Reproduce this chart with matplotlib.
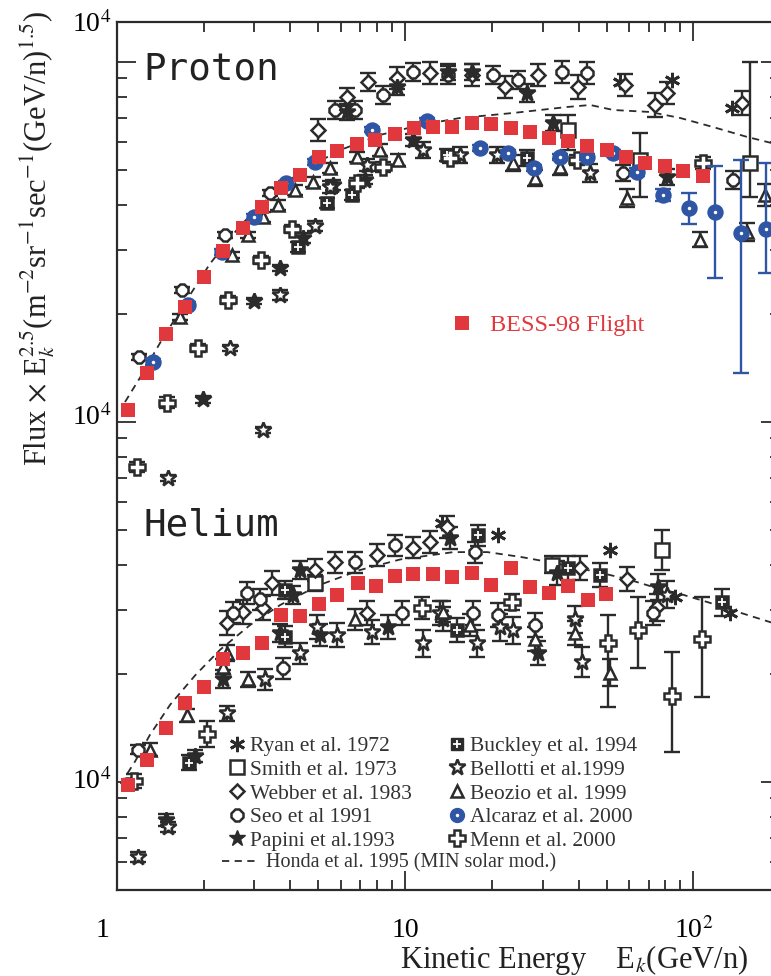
import matplotlib
matplotlib.use("Agg")
import matplotlib.pyplot as plt
import matplotlib.transforms as mtransforms
from matplotlib.lines import Line2D
from matplotlib.ticker import LogLocator, NullFormatter
import numpy as np

plt.rcParams['font.family'] = ['Liberation Serif', 'DejaVu Serif']
plt.rcParams['mathtext.fontset'] = 'stix'

INK = '#2b2b2b'
RED = '#e0383d'
BLUE = '#2f55a5'

# BESS-98 flight, proton and helium (flux x Ek^2.5)
bess_p_e = [1.09, 1.27, 1.48, 1.72, 2.01, 2.33, 2.74, 3.19, 3.71, 4.32, 5.03, 5.81,
            6.81, 7.87, 9.23, 10.75, 12.5, 14.6, 17.1, 19.9, 23.3, 27.2, 31.6, 36.8,
            42.9, 50.3, 58.5, 68.1, 80.0, 92.3, 108.3]
bess_p_f = [1080, 1368, 1756, 2086, 2528, 2985, 3459, 3956, 4467, 4855, 5447, 5659,
            5918, 6072, 6310, 6556, 6598, 6598, 6769, 6725, 6556, 6390, 6150, 6034,
            5843, 5694, 5447, 5242, 5143, 4981, 4825]
bess_he_e = [1.09, 1.27, 1.48, 1.72, 2.01, 2.33, 2.74, 3.19, 3.71, 4.32, 5.03, 5.81,
             6.87, 7.94, 9.23, 10.66, 12.5, 14.6, 17.1, 19.9, 23.3, 27.2, 31.6, 36.8,
             43.2, 49.9]
bess_he_f = [98, 115, 141, 166, 184, 220, 228, 243, 291, 289, 312, 331,
             357, 350, 373, 378, 378, 371, 381, 353, 393, 348, 335, 350,
             320, 333]

# Honda et al. 1995 calculation (MIN solar modulation)
honda_p_e = [1.066, 1.20, 1.41, 1.72, 2.10, 2.67, 3.40, 4.32, 5.95, 8.19, 11.3, 15.5,
             23.7, 36.5, 43.9, 52.8, 70.9, 90.1, 117, 154, 193]
honda_p_f = [1136, 1325, 1657, 2141, 2748, 3503, 4245, 4949, 5694, 6272, 6683, 6989,
             7217, 7499, 7595, 7356, 7263, 6989, 6598, 6190, 5918]
honda_he_e = [1.03, 1.155, 1.30, 1.53, 1.87, 2.28, 2.90, 3.68, 5.07, 6.98, 9.61, 14.7,
              19.3, 25.1, 32.7, 46.4, 59.0, 72.6, 92.3, 112, 146, 193]
honda_he_f = [98.7, 114, 135, 164, 198, 233, 273, 310, 353, 388, 415, 435,
              435, 422, 406, 383, 366, 348, 331, 316, 295, 275]

# Ryan et al. 1972
ryan_e = [55.8, 84.5, 136.6, 13.4, 21.0, 51.5, 86.6, 134.5]
ryan_f = [8800, 8910, 7450, 524, 485, 441, 327, 295]

# Smith et al. 1973
smith_e = [36.8, 65.5, 157.8, 4.87, 32.4, 78.0]
smith_f = [6470, 5350, 5240, 357, 401, 441]
smith_lo = [5690, 4220, 4220, 340, 380, 388]
smith_hi = [7130, 6350, 10000, 375, 425, 501]

# Webber et al. 1983
webber_e = [4.99, 6.29, 7.44, 9.38, 12.2, 17.1, 22.3, 29.0, 39.9, 58.1, 73.8, 81.2,
            148, 2.41, 2.74, 3.45, 4.87, 5.71, 7.99, 10.66, 12.2, 40.5, 59.0, 75.0,
            3.21, 13.99, 7.38]
webber_f = [6470, 8000, 8800, 9030, 9320, 9200, 8520, 9200, 8520, 8630, 7600, 8200,
            7690, 277, 297, 357, 388, 408, 427, 447, 464, 393, 366, 306,
            304, 511, 295]
webber_err = [0.07, 0.06, 0.06, 0.07, 0.07, 0.07, 0.07, 0.07, 0.08, 0.07, 0.08, 0.07,
              0.08, 0.08, 0.08, 0.08, 0.07, 0.07, 0.07, 0.07, 0.07, 0.08, 0.08, 0.09,
              0.08, 0.07, 0.08]

# Seo et al. 1991
seo_e = [1.19, 1.68, 2.37, 3.40, 5.71, 6.71, 8.39, 10.66, 14.1, 20.2, 24.7, 35.1,
         42.9, 57.2, 137.7, 1.18, 2.53, 3.14, 3.77, 17.2, 28.3, 72.6, 6.71,
         9.23, 17.5, 9.76, 21.0, 2.83]
seo_f = [1516, 2326, 3307, 4326, 7356, 7356, 8099, 9380, 9203, 9203, 8913, 9380,
         9320, 4918, 4706, 123, 295, 322, 207, 295, 273, 295, 408,
         455, 435, 295, 291, 335]
seo_err = [0.02, 0.02, 0.02, 0.02, 0.06, 0.06, 0.06, 0.06, 0.06, 0.06, 0.06, 0.07,
           0.07, 0.05, 0.06, 0.03, 0.07, 0.07, 0.07, 0.08, 0.08, 0.08, 0.07,
           0.07, 0.07, 0.08, 0.08, 0.07]

# Papini et al. 1993
papini_e = [1.99, 2.99, 3.68, 4.42, 5.62, 7.26, 10.66, 32.65, 81.2, 9.38, 14.1, 17.1,
            26.5, 1.87, 1.48, 3.68, 4.08, 4.32, 14.3, 33.7, 28.96, 75.6,
            2.33, 5.07, 8.73, 13.55, 6.29]
papini_f = [1155, 2169, 2678, 3245, 4554, 4706, 6076, 6769, 4793, 8521, 9380, 9380,
            8203, 118, 78.4, 259, 331, 388, 476, 381, 228, 348,
            193, 256, 269, 283, 7263]
papini_err = [0.02, 0.02, 0.02, 0.03, 0.03, 0.03, 0.04, 0.05, 0.05, 0.05, 0.05, 0.05,
              0.06, 0.04, 0.04, 0.06, 0.06, 0.06, 0.07, 0.08, 0.08, 0.09,
              0.06, 0.07, 0.08, 0.08, 0.05]

# Buckley et al. 1994
buckley_e = [4.25, 5.36, 6.55, 14.0, 26.5, 1.78, 3.83, 17.9, 47.5, 126, 36.8,
             3.83, 15.16]
buckley_f = [3062, 4058, 4272, 5516, 5412, 113, 341, 485, 376, 316, 393,
             253, 264]
buckley_err = [0.03, 0.03, 0.03, 0.04, 0.05, 0.05, 0.06, 0.07, 0.08, 0.09, 0.08,
               0.07, 0.08]

# Bellotti et al. 1999
bellotti_e = [1.50, 3.21, 2.47, 3.68, 4.87, 5.49, 7.38, 11.5, 15.5, 20.9, 43.9,
              1.18, 1.50, 2.41, 4.32, 4.95, 5.81, 7.68, 11.55, 17.8, 23.7, 41.2, 21.4,
              3.27, 13.23, 38.9, 81.2]
bellotti_f = [699, 950, 1606, 2253, 3503, 4496, 5176, 5694, 5516, 5516, 4918,
              61.9, 75.0, 155, 228, 269, 256, 261, 243, 243, 264, 215, 269,
              193, 295, 283, 331]
bellotti_err = [0.02, 0.02, 0.02, 0.03, 0.03, 0.04, 0.04, 0.05, 0.05, 0.05, 0.06,
                0.03, 0.03, 0.05, 0.07, 0.08, 0.08, 0.08, 0.09, 0.09, 0.09, 0.10, 0.09,
                0.07, 0.08, 0.09, 0.09]

# Beozio et al. 1999
beozio_e = [1.65, 2.51, 2.85, 3.21, 3.62, 4.15, 4.79, 5.49, 6.81, 8.19, 9.46, 23.7,
            28.3, 34.5, 59.0, 105.8, 154, 177.8, 1.30, 1.75, 2.33, 2.41, 2.85, 16.8,
            51.5, 38.9, 28.3, 13.55, 6.71]
beozio_f = [1957, 2910, 3307, 3711, 4006, 4410, 4642, 5077, 5447, 5694, 5347, 5242,
            4762, 5110, 4190, 3208, 3370, 4272, 123, 153, 209, 228, 193, 273,
            201, 259, 249, 297, 283]
beozio_err = [0.02, 0.02, 0.02, 0.03, 0.03, 0.03, 0.03, 0.03, 0.03, 0.04, 0.04, 0.05,
              0.05, 0.05, 0.06, 0.05, 0.06, 0.07, 0.04, 0.04, 0.05, 0.05, 0.05, 0.07,
              0.09, 0.08, 0.08, 0.07, 0.07]

# Alcaraz et al. 2000 (AMS)
alcaraz_e = [1.334, 1.764, 2.315, 2.991, 3.863, 4.870, 7.68, 11.93, 18.21, 22.79,
             28.05, 34.53, 42.85, 52.75, 63.9, 78.7, 96.8, 119.2, 146.8, 179.3]
alcaraz_f = [1468, 2113, 2967, 3711, 4612, 5275, 6474, 6858, 5768, 5587,
             5077, 5447, 5447, 5587, 4949, 4272, 3931, 3831, 3350, 3436]
alcaraz_lo = [1440, 2075, 2915, 3650, 4540, 5190, 6370, 6745, 5670, 5490,
              4985, 5350, 5340, 5470, 4820, 4100, 3548, 2512, 1368, 2594]
alcaraz_hi = [1497, 2150, 3020, 3775, 4685, 5360, 6580, 6970, 5865, 5685,
              5170, 5545, 5555, 5705, 5080, 4450, 4326, 5143, 5344, 5242]

# Menn et al. 2000
menn_e = [1.17, 1.49, 1.91, 2.43, 3.16, 4.05, 6.81, 8.39, 14.3, 39.6, 108.3,
          1.15, 2.05, 23.5, 50.7, 64.4, 84.5, 107.5, 11.46]
menn_f = [750, 1129, 1606, 2187, 2823, 3436, 4612, 5110, 5412, 5347, 5242,
          100.6, 136, 316, 243, 264, 173, 249, 304]
menn_lo = [725, 1090, 1560, 2130, 2750, 3350, 4480, 4960, 5250, 5190, 5050,
           96, 125, 300, 162, 207, 121, 172, 284]
menn_hi = [775, 1170, 1650, 2245, 2900, 3520, 4750, 5260, 5580, 5510, 5440,
           105, 148, 333, 291, 327, 230, 327, 326]

W, H = 771, 976
fig = plt.figure(figsize=(W / 100, H / 100), dpi=100)
ax = fig.add_axes([117 / W, 1 - 890 / H, 663 / W, 868 / H])
ax.set_xscale('log')
ax.set_yscale('log')
ax.set_xlim(1, 200)
ax.set_ylim(50.1, 12915)


def bars(e, f, lo, hi, z, color=INK):
    f = np.asarray(f)
    yerr = [f - np.asarray(lo), np.asarray(hi) - f]
    ax.errorbar(e, f, yerr=yerr, fmt='none', ecolor=color, elinewidth=1.7,
                capsize=5.5, capthick=1.7, zorder=z)


def rel_bars(e, f, err, z):
    f = np.asarray(f)
    err = np.asarray(err)
    bars(e, f, f / (1 + err), f * (1 + err), z)


def points(e, f, z, **style):
    base = dict(ls='none', mec=INK, mew=1.8, zorder=z)
    base.update(style)
    ax.plot(e, f, **base)


# theory curves
ax.plot(honda_p_e, honda_p_f, ls=(0, (4, 3)), color=INK, lw=1.3, zorder=2)
ax.plot(honda_he_e, honda_he_f, ls=(0, (4, 3)), color=INK, lw=1.3, zorder=2)

# earlier measurements
points(ryan_e, ryan_f, 3, marker=(6, 2, 0), ms=11, mew=2.0)
bars(smith_e, smith_f, smith_lo, smith_hi, 3)
points(smith_e, smith_f, 3.1, marker='s', ms=10, mfc='white')
rel_bars(webber_e, webber_f, webber_err, 3)
points(webber_e, webber_f, 3.1, marker='D', ms=7, mfc='white')
rel_bars(seo_e, seo_f, seo_err, 3)
points(seo_e, seo_f, 3.1, marker='8', ms=9, mfc='white')
rel_bars(papini_e, papini_f, papini_err, 3)
points(papini_e, papini_f, 3.1, marker='*', ms=12, mfc=INK)
rel_bars(buckley_e, buckley_f, buckley_err, 3)
points(buckley_e, buckley_f, 3.1, marker='s', ms=9, mfc=INK)
points(buckley_e, buckley_f, 3.2, marker='+', ms=6, mec='white', mew=1.3)
rel_bars(bellotti_e, bellotti_f, bellotti_err, 3)
points(bellotti_e, bellotti_f, 3.1, marker='*', ms=12, mfc='white')
rel_bars(beozio_e, beozio_f, beozio_err, 3)
points(beozio_e, beozio_f, 3.1, marker='^', ms=9, mfc='white')
bars(menn_e, menn_f, menn_lo, menn_hi, 3)
points(menn_e, menn_f, 3.1, marker='P', ms=11, mfc='white')

# AMS
bars(alcaraz_e, alcaraz_f, alcaraz_lo, alcaraz_hi, 4, color=BLUE)
points(alcaraz_e, alcaraz_f, 4.1, marker='o', ms=10, mfc=BLUE, mec=BLUE)
points(alcaraz_e, alcaraz_f, 4.2, marker='o', ms=2.5, mfc='white', mec='white', mew=0)

# BESS-98
points(bess_p_e, bess_p_f, 5, marker='s', ms=10, mfc=RED, mec=RED, mew=0)
points(bess_he_e, bess_he_f, 5, marker='s', ms=10, mfc=RED, mec=RED, mew=0)

# axes frame and ticks
for sp in ax.spines.values():
    sp.set_linewidth(1.6)
    sp.set_color(INK)
for axis in (ax.xaxis, ax.yaxis):
    axis.set_major_locator(LogLocator(base=10, numticks=12))
    axis.set_minor_locator(LogLocator(base=10, subs=np.arange(2, 10), numticks=12))
    axis.set_minor_formatter(NullFormatter())
ax.tick_params(which='both', direction='in', top=True, right=True, color=INK,
               width=1.3, labelleft=False, labelbottom=False)
ax.tick_params(which='major', length=14)
ax.tick_params(which='minor', length=7)

xt = ax.get_xaxis_transform()
shift = mtransforms.ScaledTranslation(-14 / 100, 0, fig.dpi_scale_trans)
ax.text(1, -0.047, '1', transform=xt + shift, ha='center', va='center', fontsize=20)
ax.text(10, -0.047, '10', transform=xt, ha='center', va='center', fontsize=20)
ax.text(100, -0.047, r'10$^2$', transform=xt, ha='center', va='center', fontsize=20)

yt = ax.get_yaxis_transform()
for yv, dy in ((12915, -3), (1000, 4), (100, 0)):
    off = mtransforms.ScaledTranslation(0, dy / 100, fig.dpi_scale_trans)
    ax.text(-0.008, yv, r'10$^4$', transform=yt + off, ha='right', va='center',
            fontsize=20)

fig.text(38 / W, 1 - 238 / H,
         r'Flux $\times$ E$_k^{2.5}$(m$^{-2}$sr$^{-1}$sec$^{-1}$(GeV/n)$^{1.5}$)',
         rotation=90, ha='center', va='center', fontsize=22, color='#222222')
fig.text(400 / W, 1 - 960 / H, r'Kinetic Energy    E$_k$(GeV/n)',
         ha='left', va='center', fontsize=22, color='#222222')

fig.text(143 / W, 1 - 70 / H, 'Proton', family='DejaVu Sans Mono', fontsize=27,
         ha='left', va='center', color='#222222')
fig.text(143 / W, 1 - 525 / H, 'Helium', family='DejaVu Sans Mono', fontsize=27,
         ha='left', va='center', color='#222222')

# BESS key
bess_key = Line2D([], [], ls='none', marker='s', ms=10, mfc=RED, mec=RED, mew=0)
leg_b = ax.legend([bess_key], ['BESS-98 Flight'], loc='center left',
                  bbox_to_anchor=(450 / W, 1 - 325 / H), bbox_transform=fig.transFigure,
                  frameon=False, fontsize=17.5, labelcolor=RED, handlelength=1.0,
                  handletextpad=0.65, borderpad=0, borderaxespad=0)
ax.add_artist(leg_b)

# dataset keys
k_ryan = Line2D([], [], ls='none', marker=(6, 2, 0), ms=11, mec=INK, mew=2.0)
k_smith = Line2D([], [], ls='none', marker='s', ms=10, mfc='white', mec=INK, mew=1.8)
k_webber = Line2D([], [], ls='none', marker='D', ms=7, mfc='white', mec=INK, mew=1.8)
k_seo = Line2D([], [], ls='none', marker='8', ms=9, mfc='white', mec=INK, mew=1.8)
k_papini = Line2D([], [], ls='none', marker='*', ms=12, mfc=INK, mec=INK)
k_buck_a = Line2D([], [], ls='none', marker='s', ms=9, mfc=INK, mec=INK)
k_buck_b = Line2D([], [], ls='none', marker='+', ms=6, mec='white', mew=1.3)
k_bell = Line2D([], [], ls='none', marker='*', ms=12, mfc='white', mec=INK, mew=1.8)
k_beoz = Line2D([], [], ls='none', marker='^', ms=9, mfc='white', mec=INK, mew=1.8)
k_alc_a = Line2D([], [], ls='none', marker='o', ms=10, mfc=BLUE, mec=BLUE)
k_alc_b = Line2D([], [], ls='none', marker='o', ms=2.5, mfc='white', mec='white', mew=0)
k_menn = Line2D([], [], ls='none', marker='P', ms=11, mfc='white', mec=INK, mew=1.8)

keys = [k_ryan, k_smith, k_webber, k_seo, k_papini,
        (k_buck_a, k_buck_b), k_bell, k_beoz, (k_alc_a, k_alc_b), k_menn]
names = ['Ryan et al. 1972', 'Smith et al. 1973', 'Webber et al. 1983',
         'Seo et al 1991', 'Papini et al.1993', 'Buckley et al. 1994',
         'Bellotti et al.1999', 'Beozio et al. 1999', 'Alcaraz et al. 2000',
         'Menn et al. 2000']
leg = ax.legend(keys, names, ncol=2, loc='upper left',
                bbox_to_anchor=(228 / W, 1 - 736 / H), bbox_transform=fig.transFigure,
                frameon=False, fontsize=15.5, labelcolor='#333333', handlelength=0.8,
                handletextpad=0.2, columnspacing=1.7, labelspacing=0.17,
                borderpad=0, borderaxespad=0)
ax.add_artist(leg)

k_honda = Line2D([], [], ls=(0, (4, 3)), color=INK, lw=1.3)
ax.legend([k_honda], ['Honda et al. 1995 (MIN solar mod.)'], loc='center left',
          bbox_to_anchor=(222 / W, 1 - 863 / H), bbox_transform=fig.transFigure,
          frameon=False, fontsize=14.5, labelcolor='#333333', handlelength=1.8,
          handletextpad=0.4, borderpad=0, borderaxespad=0)

fig.savefig('out.png', dpi=100)
